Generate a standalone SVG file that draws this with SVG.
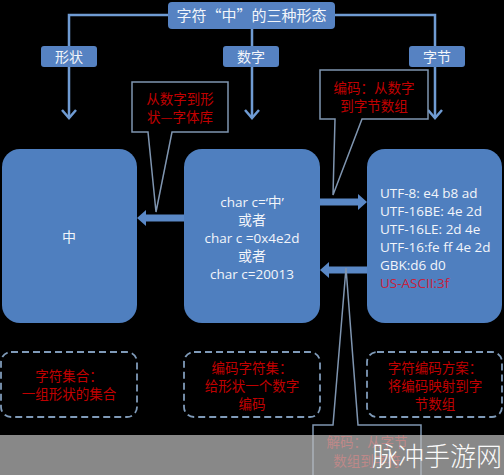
<svg xmlns="http://www.w3.org/2000/svg" width="504" height="475" viewBox="0 0 504 475">
<defs>
<style>
.box{fill:#4f7fbf;}
.lbl{fill:#5682c2;}
.ln{stroke:#6f9bd3;stroke-width:2.5;fill:none;}
.ah{fill:none;stroke:#6f9bd3;stroke-width:2.5;}
.thick{fill:#5a88c6;}
.call{fill:#000;stroke:#7f95b0;stroke-width:1.5;}
.dash{fill:none;stroke:#7f9ab8;stroke-width:1.8;stroke-dasharray:7 4;}
.wt{fill:#f2f5fa;font-family:"Noto Sans CJK SC","Liberation Sans",sans-serif;text-anchor:middle;}
.red{fill:#c00000;font-family:"Noto Sans CJK SC",sans-serif;font-size:13.5px;text-anchor:middle;}
.en{fill:#f2f5fa;font-family:"Open Sans","Liberation Sans","Noto Sans CJK SC",sans-serif;font-size:13.5px;}
</style>
</defs>
<rect width="504" height="475" fill="#000"/>
<g id="connectors">
<path class="ln" d="M168,15 H69 V118 M252,29 V118 M335,15 H435 V118"/>
<path class="ah" d="M62,110 L69,118 L76,110 M245,110 L252,118 L259,110 M428,110 L435,118 L442,110"/>
<polygon class="thick" points="184,214.5 146,214.5 146,210 137,218 146,226 146,221.5 184,221.5"/>
<polygon class="thick" points="320,198.5 358,198.5 358,194 367,202 358,210 358,205.5 320,205.5"/>
<polygon class="thick" points="367,266.5 329,266.5 329,262 320,270 329,278 329,273.5 367,273.5"/>
</g>
<g id="title">
<rect x="168" y="2" width="167" height="27" rx="4" class="lbl"/>
<text x="251.5" y="21" class="wt" font-size="15">字符“中”的三种形态</text>
</g>
<g id="shape-label">
<rect x="41" y="46" width="56" height="21" rx="3" class="lbl"/>
<text x="69" y="61.5" class="wt" font-size="14">形状</text>
</g>
<g id="number-label">
<rect x="223" y="46" width="56" height="21" rx="3" class="lbl"/>
<text x="251" y="61.5" class="wt" font-size="14">数字</text>
</g>
<g id="bytes-label">
<rect x="409" y="46" width="56" height="21" rx="3" class="lbl"/>
<text x="437" y="61.5" class="wt" font-size="14">字节</text>
</g>
<g id="callout-font">
<path class="call" d="M132,82 H228 V132 H172 L156,212 L148,132 H132 Z"/>
<text x="180" y="104" class="red">从数字到形</text>
<text x="180" y="122" class="red">状—字体库</text>
</g>
<g id="callout-encode">
<path class="call" d="M320,70 H428 V119 H362 L333,195 L335,119 H320 Z"/>
<text x="374" y="93" class="red">编码：从数字</text>
<text x="374" y="111" class="red">到字节数组</text>
</g>
<g id="shape-box">
<rect x="2" y="149" width="135" height="174" rx="18" class="box"/>
<text x="69" y="242" class="wt" font-size="14">中</text>
</g>
<g id="number-box">
<rect x="184" y="149" width="136" height="174" rx="18" class="box"/>
<text x="252" y="207" class="en" text-anchor="middle">char c=‘中’</text>
<text x="252" y="225" class="wt" font-size="14">或者</text>
<text x="252" y="243" class="en" text-anchor="middle">char c =0x4e2d</text>
<text x="252" y="261" class="wt" font-size="14">或者</text>
<text x="252" y="279" class="en" text-anchor="middle">char c=20013</text>
</g>
<g id="bytes-box">
<rect x="367" y="149" width="135" height="174" rx="18" class="box"/>
<text x="380" y="198" class="en">UTF-8:  e4 b8 ad</text>
<text x="380" y="216" class="en">UTF-16BE: 4e 2d</text>
<text x="380" y="234" class="en">UTF-16LE: 2d 4e</text>
<text x="380" y="252" class="en">UTF-16:fe ff 4e 2d</text>
<text x="380" y="270" class="en">GBK:d6 d0</text>
<text x="380" y="288" class="en" style="fill:#c8203c">US-ASCII:3f</text>
</g>
<g id="charset-note">
<rect x="1" y="352" width="136" height="65" rx="10" class="dash"/>
<text x="69" y="381" class="red">字符集合：</text>
<text x="69" y="399" class="red">一组形状的集合</text>
</g>
<g id="coded-charset-note">
<rect x="184" y="352" width="136" height="65" rx="10" class="dash"/>
<text x="252" y="373" class="red">编码字符集：</text>
<text x="252" y="391" class="red">给形状一个数字</text>
<text x="252" y="409" class="red">编码</text>
</g>
<g id="encoding-scheme-note">
<rect x="367" y="352" width="135" height="65" rx="10" class="dash"/>
<text x="435" y="373" class="red">字符编码方案：</text>
<text x="435" y="391" class="red">将编码映射到字</text>
<text x="435" y="409" class="red">节数组</text>
</g>
<g id="callout-decode">
<path class="call" d="M313,425 H333 L346,268 L358,425 H421 V480 H313 Z"/>
<text x="367" y="447" class="red">解码：从字节</text>
<text x="367" y="466" class="red">数组到字符</text>
</g>
<g id="watermark">
<rect x="0" y="435" width="504" height="40" fill="#bdbdbd" opacity="0.72"/>
<text x="502" y="466" font-family="Noto Sans CJK SC,sans-serif" font-size="26" font-weight="300" fill="#fafafa" text-anchor="end">脉冲手游网</text>
</g>
</svg>
